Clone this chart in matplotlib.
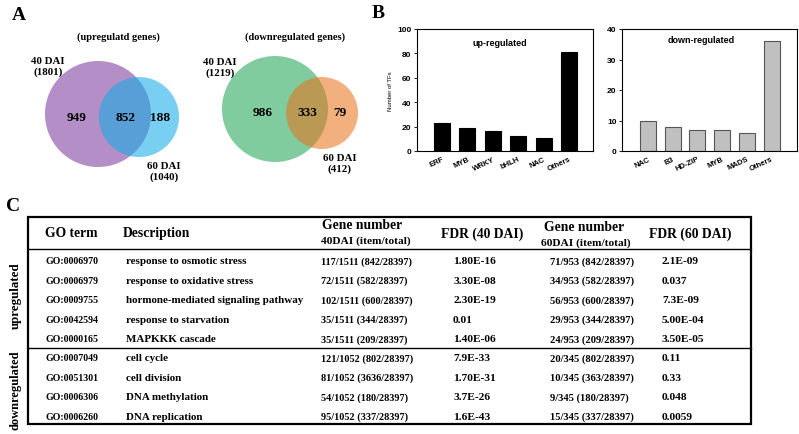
import numpy as np
import matplotlib.pyplot as plt
from matplotlib.patches import Circle, Rectangle

W, H = 799, 435
SERIF = "Liberation Serif"
SANS = "Liberation Sans"

# ---- Panel A: Venn counts ----
up_totals = [1801, 1040]
up_parts = [949, 852, 188]
down_totals = [1219, 412]
down_parts = [986, 333, 79]

# ---- Panel B: TF families ----
up_tf = ["ERF", "MYB", "WRKY", "bHLH", "NAC", "Others"]
up_tf_n = [23, 19, 16, 12, 11, 81]
down_tf = ["NAC", "B3", "HD-ZIP", "MYB", "MADS", "Others"]
down_tf_n = [10, 8, 7, 7, 6, 36]

# ---- Panel C: GO table ----
go_terms = ["GO:0006970", "GO:0006979", "GO:0009755", "GO:0042594", "GO:0000165",
            "GO:0007049", "GO:0051301", "GO:0006306", "GO:0006260"]
descriptions = ["response to osmotic stress", "response to oxidative stress",
                "hormone-mediated signaling pathway", "response to starvation",
                "MAPKKK cascade", "cell cycle", "cell division",
                "DNA methylation", "DNA replication"]
gene40 = ["117/1511 (842/28397)", "72/1511 (582/28397)", "102/1511 (600/28397)",
          "35/1511 (344/28397)", "35/1511 (209/28397)", "121/1052 (802/28397)",
          "81/1052 (3636/28397)", "54/1052 (180/28397)", "95/1052 (337/28397)"]
fdr40 = ["1.80E-16", "3.30E-08", "2.30E-19", "0.01", "1.40E-06",
         "7.9E-33", "1.70E-31", "3.7E-26", "1.6E-43"]
gene60 = ["71/953 (842/28397)", "34/953 (582/28397)", "56/953 (600/28397)",
          "29/953 (344/28397)", "24/953 (209/28397)", "20/345 (802/28397)",
          "10/345 (363/28397)", "9/345 (180/28397)", "15/345 (337/28397)"]
fdr60 = ["2.1E-09", "0.037", "7.3E-09", "5.00E-04", "3.50E-05",
         "0.11", "0.33", "0.048", "0.0059"]
n_up = 5

fig = plt.figure(figsize=(W / 100, H / 100), dpi=100)

# overlay axes in pixel coordinates
ax0 = fig.add_axes([0, 0, 1, 1])
ax0.set_xlim(0, W)
ax0.set_ylim(H, 0)
ax0.axis("off")

bold_serif = dict(family=SERIF, fontweight="bold", color="black")

# panel letters
ax0.text(19, 15, "A", fontsize=14, ha="center", va="center", **bold_serif)
ax0.text(378, 13, "B", fontsize=14, ha="center", va="center", **bold_serif)
ax0.text(13, 207, "C", fontsize=14, ha="center", va="center", **bold_serif)


def venn(c1, r1, col1, c2, r2, col2, alpha2, title, title_xy, totals, parts,
         part_x, lab1_xy, lab2_xy):
    ax0.add_patch(Circle(c1, r1, facecolor=col1, edgecolor="none", zorder=1))
    ax0.add_patch(Circle(c2, r2, facecolor=col2, edgecolor="none",
                         alpha=alpha2, zorder=2))
    ax0.text(*title_xy, title, fontsize=7.5, ha="center", va="center", **bold_serif)
    for px, v in zip(part_x, parts):
        ax0.text(px, c1[1] + 3, str(v), fontsize=9.5, ha="center", va="center",
                 zorder=3, **bold_serif)
    ax0.text(*lab1_xy, f"40 DAI\n({totals[0]})", fontsize=7.8, ha="center",
             va="center", linespacing=1.25, **bold_serif)
    ax0.text(*lab2_xy, f"60 DAI\n({totals[1]})", fontsize=7.8, ha="center",
             va="center", linespacing=1.25, **bold_serif)


venn((98, 115), 53, "#b48ec6", (139, 118), 40, "#10abe6", 0.56,
     "(upregulatd genes)", (118, 37), up_totals, up_parts, [77, 125, 160],
     (48, 67), (164, 172))
venn((275, 110), 53, "#80cc9f", (322, 114), 36, "#e96f16", 0.55,
     "(downregulated genes)", (295, 37), down_totals, down_parts, [263, 307, 340],
     (220, 68), (340, 164))

# ---- Panel B bar charts ----
sans_bold = dict(family=SANS, fontweight="bold")


def bar_panel(rect, names, vals, ymax, step, color, edge, width, xlim, label,
              label_xy, ylabel=None):
    ax = fig.add_axes(rect)
    x = np.arange(len(names))
    ax.bar(x, vals, width=width, color=color, edgecolor=edge, linewidth=0.8)
    ax.set_xlim(*xlim)
    ax.set_ylim(0, ymax)
    ax.set_yticks(np.arange(0, ymax + 1, step))
    ax.set_xticks(x)
    ax.set_xticklabels(names, rotation=25, ha="right", rotation_mode="anchor",
                       fontsize=5.5, **sans_bold)
    for t in ax.get_yticklabels():
        t.set_fontsize(6)
        t.set_fontfamily(SANS)
        t.set_fontweight("bold")
    ax.tick_params(axis="y", direction="out", length=2, width=0.6, pad=2)
    ax.tick_params(axis="x", length=0, pad=3)
    for s in ax.spines.values():
        s.set_linewidth(0.8)
    ax.text(*label_xy, label, transform=ax.transAxes, fontsize=6.5,
            ha="center", va="center", **sans_bold)
    if ylabel:
        ax.set_ylabel(ylabel, fontsize=4.3, family=SANS, labelpad=3)
    return ax


bar_panel([417 / W, 1 - 152 / H, 176 / W, 122 / H], up_tf, up_tf_n, 100, 20,
          "black", "black", 0.63, (-0.98, 5.94), "up-regulated", (0.47, 0.89),
          ylabel="Number of TFs")
bar_panel([622 / W, 1 - 152 / H, 175 / W, 122 / H], down_tf, down_tf_n, 40, 10,
          "#c0c0c0", "#555555", 0.65, (-1.05, 6.03), "down-regulated",
          (0.45, 0.91))

# ---- Panel C table ----
left, right, top, bottom = 28, 751, 218, 425
head_line, sep_line = 250, 349
ax0.add_patch(Rectangle((left, top), right - left, bottom - top, fill=False,
                        edgecolor="black", linewidth=1.6))
ax0.plot([left, right], [head_line, head_line], color="black", lw=1.0)
ax0.plot([left, right], [sep_line, sep_line], color="black", lw=1.0)

hdr = dict(fontsize=9.8, va="center", **bold_serif)
sub = dict(fontsize=8.2, ha="center", va="center", **bold_serif)
ax0.text(45, 234, "GO term", ha="left", **hdr)
ax0.text(123, 234, "Description", ha="left", **hdr)
ax0.text(362, 226, "Gene number", ha="center", **hdr)
ax0.text(366, 241, "40DAI (item/total)", **sub)
ax0.text(482, 234, "FDR (40 DAI)", ha="center", **hdr)
ax0.text(584, 228, "Gene number", ha="center", **hdr)
ax0.text(586, 243, "60DAI (item/total)", **sub)
ax0.text(690, 234, "FDR (60 DAI)", ha="center", **hdr)

row_y = [262 + 19.5 * i for i in range(n_up)] + \
        [359 + 19.4 * i for i in range(len(go_terms) - n_up)]
cols = [(45, go_terms, 7.1), (126, descriptions, 7.9), (321, gene40, 7.4),
        (453, fdr40, 8.2), (550, gene60, 7.6), (662, fdr60, 8.2)]
for cx, vals, fs in cols:
    for y, v in zip(row_y, vals):
        ax0.text(cx, y, v, fontsize=fs, ha="left", va="center", **bold_serif)

ax0.text(16, 296, "upregulated", rotation=90, fontsize=9.3,
         ha="center", va="center", **bold_serif)
ax0.text(16, 390, "downregulated", rotation=90, fontsize=9,
         ha="center", va="center", **bold_serif)

fig.savefig("out.png", dpi=100)
